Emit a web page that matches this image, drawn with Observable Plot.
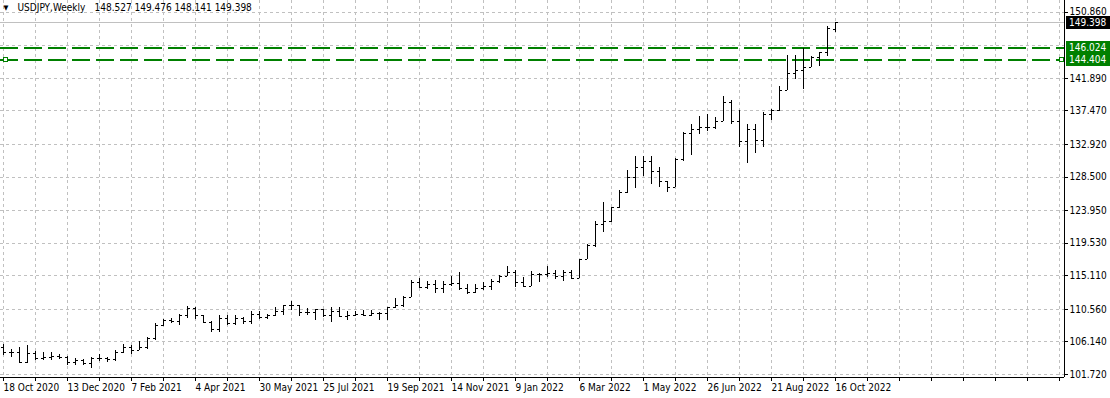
<!DOCTYPE html>
<html><head><meta charset="utf-8">
<script src="https://cdn.jsdelivr.net/npm/d3@7"></script>
<script src="https://cdn.jsdelivr.net/npm/@observablehq/plot@0.6"></script>
<style>
html,body{margin:0;padding:0;background:#fff;}
#chart svg{display:block;}
#chart line, #chart path{shape-rendering:crispEdges;}
</style></head><body><div id="chart"></div>
<script>
// ---- data (weekly bars, USDJPY) ----
const weekStarts = [
"2020-10-18","2020-10-25","2020-11-01","2020-11-08","2020-11-15","2020-11-22","2020-11-29","2020-12-06","2020-12-13","2020-12-20","2020-12-27",
"2021-01-03","2021-01-10","2021-01-17","2021-01-24","2021-01-31","2021-02-07","2021-02-14","2021-02-21","2021-02-28","2021-03-07","2021-03-14","2021-03-21","2021-03-28",
"2021-04-04","2021-04-11","2021-04-18","2021-04-25","2021-05-02","2021-05-09","2021-05-16","2021-05-23","2021-05-30","2021-06-06","2021-06-13","2021-06-20","2021-06-27",
"2021-07-04","2021-07-11","2021-07-18","2021-07-25","2021-08-01","2021-08-08","2021-08-15","2021-08-22","2021-08-29","2021-09-05","2021-09-12","2021-09-19","2021-09-26",
"2021-10-03","2021-10-10","2021-10-17","2021-10-24","2021-10-31","2021-11-07","2021-11-14","2021-11-21","2021-11-28","2021-12-05","2021-12-12","2021-12-19","2021-12-26",
"2022-01-02","2022-01-09","2022-01-16","2022-01-23","2022-01-30","2022-02-06","2022-02-13","2022-02-20","2022-02-27","2022-03-06","2022-03-13","2022-03-20","2022-03-27",
"2022-04-03","2022-04-10","2022-04-17","2022-04-24","2022-05-01","2022-05-08","2022-05-15","2022-05-22","2022-05-29","2022-06-05","2022-06-12","2022-06-19","2022-06-26",
"2022-07-03","2022-07-10","2022-07-17","2022-07-24","2022-07-31","2022-08-07","2022-08-14","2022-08-21","2022-08-28","2022-09-04","2022-09-11","2022-09-18","2022-09-25",
"2022-10-02","2022-10-09","2022-10-16"];
const opens = [
105.40,104.70,104.65,103.35,104.62,103.85,104.08,104.17,104.04,103.31,103.65,
103.24,103.93,103.86,103.78,104.68,105.38,104.96,105.43,106.57,108.30,109.03,108.88,109.67,
110.69,109.66,108.78,107.88,109.30,108.59,109.36,108.96,109.85,109.50,109.67,110.20,111.08,
111.05,110.14,110.07,110.55,109.71,110.25,109.58,109.79,109.84,109.70,109.93,109.93,110.74,
111.05,112.21,114.21,113.47,113.95,113.40,113.89,114.00,113.39,112.80,113.44,113.70,114.37,
115.07,115.58,114.21,113.67,115.26,115.23,115.43,114.99,115.56,114.79,117.29,119.16,122.05,
122.52,124.33,126.40,128.50,129.83,130.56,129.23,127.88,127.11,130.87,134.39,134.97,135.21,
135.20,136.09,138.56,136.09,133.28,134.99,133.43,136.92,137.54,140.23,142.54,142.91,143.35,
144.74,145.33,148.527];
const highs = [
105.75,105.06,105.35,105.68,104.85,104.76,104.74,104.48,104.13,103.91,103.79,
104.08,104.40,104.09,104.94,105.77,105.65,106.22,106.69,108.64,109.23,109.36,109.86,110.96,
110.82,109.77,108.97,109.70,109.68,109.79,109.43,110.20,110.33,109.84,110.82,111.11,111.66,
111.11,110.70,110.59,110.59,110.80,110.80,110.25,110.26,110.42,110.45,110.15,110.79,112.07,
112.25,114.46,114.70,114.31,114.44,114.30,114.97,115.52,113.90,113.95,114.26,114.59,115.19,
116.35,115.84,114.94,115.68,115.47,116.34,115.84,115.76,115.80,117.36,119.41,122.44,125.09,
124.43,126.68,129.40,131.25,131.34,131.35,129.78,127.96,130.98,134.56,135.59,136.71,137.00,
136.58,139.38,138.87,137.46,135.57,135.58,137.23,137.68,140.80,144.99,144.96,145.90,144.87,
145.42,148.86,149.476];
const lows = [
104.34,104.02,103.18,103.19,103.65,103.65,103.66,103.76,102.88,102.96,102.95,
102.59,103.52,103.33,103.55,104.59,104.40,104.92,105.15,106.37,108.20,108.61,108.41,109.36,
109.18,108.60,107.47,107.48,108.34,108.34,108.56,108.56,109.19,109.19,109.61,109.71,110.42,
109.53,109.68,109.07,109.43,108.72,109.55,109.11,109.59,109.59,109.59,109.11,109.11,110.71,
110.81,112.12,113.41,113.26,112.72,112.73,113.59,113.06,112.53,112.75,113.13,113.17,114.04,
115.05,113.48,113.47,113.64,114.15,114.82,114.60,114.39,114.65,114.72,117.26,118.97,121.03,
122.38,124.29,126.23,126.94,128.62,127.52,127.03,126.36,127.07,130.63,131.49,134.27,134.74,
134.94,136.00,135.57,132.51,130.40,131.74,132.56,136.22,137.35,140.20,141.67,140.35,143.30,
143.52,144.89,148.141];
const closes = [
104.70,104.65,103.35,104.62,103.85,104.08,104.17,104.04,103.31,103.65,103.24,
103.93,103.86,103.78,104.68,105.38,104.96,105.43,106.57,108.30,109.03,108.88,109.67,110.69,
109.66,108.78,107.88,109.30,108.59,109.36,108.96,109.85,109.50,109.67,110.20,111.08,111.05,
110.14,110.07,110.55,109.71,110.25,109.58,109.79,109.84,109.70,109.93,109.93,110.74,111.05,
112.21,114.21,113.47,113.95,113.40,113.89,114.00,113.39,112.80,113.44,113.70,114.37,115.07,
115.58,114.21,113.67,115.26,115.23,115.43,114.99,115.56,114.79,117.29,119.16,122.05,122.52,
124.33,126.40,128.50,129.83,130.56,129.23,127.88,127.11,130.87,134.39,134.97,135.21,135.20,
136.09,138.56,136.09,133.28,134.99,133.43,136.92,137.54,140.23,142.54,142.91,143.35,144.74,
145.33,148.69,149.398];

const symbolName = "USDJPY,Weekly";
const levels = [146.024, 144.404];           // horizontal green lines
const yTickValues = [150.860, 141.890, 137.470, 132.920, 128.500, 123.950, 119.530, 115.110, 110.560, 106.140, 101.720];
const yGridValues = [150.860, 146.375, 141.890, 137.470, 132.920, 128.500, 123.950, 119.530, 115.110, 110.560, 106.140, 101.720];
const xLabelDates = ["2020-10-18","2020-12-13","2021-02-07","2021-04-04","2021-05-30","2021-07-25","2021-09-19","2021-11-14","2022-01-09","2022-03-06","2022-05-01","2022-06-26","2022-08-21","2022-10-16"];

// ---- build table ----
const bars = weekStarts.map((d, i) => ({date: new Date(d + "T00:00:00Z"), o: opens[i], h: highs[i], l: lows[i], c: closes[i]}));
const last = bars[bars.length - 1];

const WEEK = 7 * 864e5;
const PXW = 8;                       // pixels per weekly bar
const plotW = 1064;
const d0 = +bars[0].date;
const xDomain = [new Date(d0 - 3 / PXW * WEEK), new Date(d0 + (plotW - 3) / PXW * WEEK)];
const gridDates = d3.range(0, 133, 4).map(w => new Date(d0 + w * WEEK));
const tickMs = 2.5 / PXW * WEEK;
const fmt3 = d3.format(".3f");
const FONT = "'DejaVu Sans Condensed', 'Liberation Sans', Arial, sans-serif";
const FS = 10;

const gridStyle = {stroke: "#c0c0c0", strokeOpacity: 1, strokeDasharray: "3,3"};
const GREEN = "#008000";

const chart = Plot.plot({
  width: 1110, height: 398,
  marginLeft: 0, marginRight: 46, marginTop: 0, marginBottom: 21,
  style: {fontFamily: FONT, fontSize: FS + "px", color: "#000", background: "#fff"},
  x: {type: "utc", domain: xDomain},
  y: {domain: [101.313, 152.447]},
  marks: [
    Plot.gridY({ticks: yGridValues, ...gridStyle}),
    Plot.gridX({ticks: gridDates, ...gridStyle}),
    Plot.ruleY([last.c], {stroke: "#c0c0c0"}),
    Plot.ruleY(levels, {y: d => d, stroke: () => GREEN, strokeWidth: 1.5, strokeDasharray: "18,6"}),
    Plot.dot([levels[1]], {x: () => xDomain[0], y: d => d, dx: 5, symbol: "square", r: 2.2, stroke: () => GREEN, fill: "#fff", strokeWidth: 1}),
    Plot.dot([levels[1]], {x: () => xDomain[1], y: d => d, dx: -3, symbol: "square", r: 2.2, stroke: () => GREEN, fill: "#fff", strokeWidth: 1}),
    Plot.ruleX(bars, {x: "date", y1: "l", y2: "h", stroke: "#000"}),
    Plot.ruleY(bars, {y: "o", x1: d => new Date(+d.date - tickMs), x2: "date", stroke: "#000"}),
    Plot.ruleY(bars, {y: "c", x1: "date", x2: d => new Date(+d.date + tickMs), stroke: "#000"}),
    Plot.ruleX([xDomain[1]], {stroke: "#000"}),
    Plot.ruleY([101.313], {stroke: "#000"}),
    Plot.axisY({anchor: "right", ticks: yTickValues, tickSize: 3, tickPadding: 2, tickFormat: fmt3, textAnchor: "start", label: null, fontSize: FS}),
    Plot.axisX({anchor: "bottom", ticks: gridDates, tickSize: 4, tickFormat: () => "", label: null}),
    Plot.axisX({anchor: "bottom", ticks: xLabelDates.map(d => new Date(d + "T00:00:00Z")), tickSize: 4, tickPadding: 2, tickFormat: d3.utcFormat("%-d %b %Y"), textAnchor: "start", dx: 0, label: null, fontSize: FS}),
    Plot.text(["\u25BC"], {frameAnchor: "top-left", dx: 3, dy: 5, textAnchor: "start", fontSize: 7, fill: "#000"}),
    Plot.text([symbolName], {frameAnchor: "top-left", dx: 17, dy: 3, textAnchor: "start", lineAnchor: "top", fontSize: FS, fill: "#000"}),
    Plot.text([[last.o, last.h, last.l, last.c].map(fmt3).join(" ")], {frameAnchor: "top-left", dx: 94, dy: 3, textAnchor: "start", lineAnchor: "top", fontSize: FS, fill: "#000"})
  ]
});
document.getElementById("chart").appendChild(chart);

// ---- price label boxes on the right axis ----
const ys = chart.scale("y");
const boxes = [{v: last.c, bg: "#000"}, {v: levels[0], bg: GREEN}, {v: levels[1], bg: GREEN}];
const g = d3.select(chart).append("g").attr("text-anchor", "start").attr("font-family", FONT);
for (const b of boxes) {
  const yy = ys.apply(b.v);
  g.append("rect").attr("x", 1066).attr("y", Math.round(yy) - 6).attr("width", 44).attr("height", 13).attr("fill", b.bg);
  g.append("text").attr("x", 1069).attr("y", Math.round(yy) + 0.5).attr("dy", "0.35em")
    .attr("text-anchor", "start").attr("fill", "#fff").attr("font-size", FS).text(fmt3(b.v));
}
</script></body></html>
